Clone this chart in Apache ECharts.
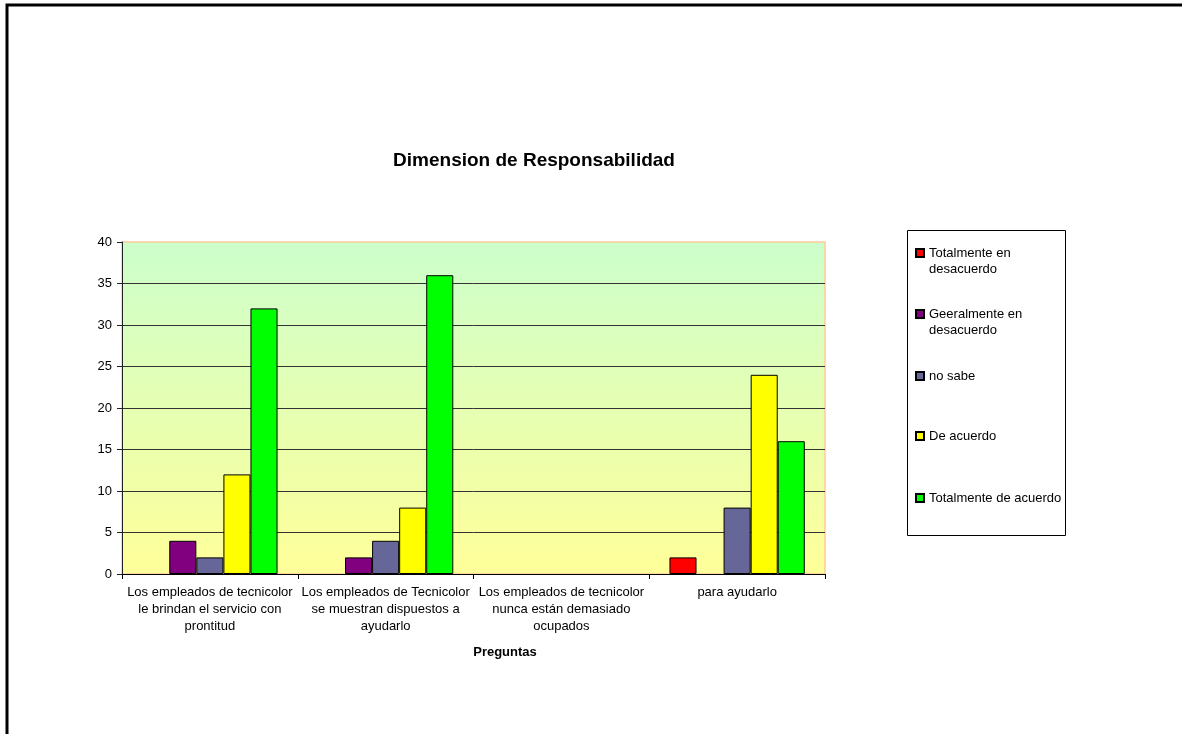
<!DOCTYPE html>
<html>
<head>
<meta charset="utf-8">
<script src="https://cdn.jsdelivr.net/npm/echarts@6/dist/echarts.min.js"></script>
<style>
html,body{margin:0;padding:0;background:#fff;}
#chart{width:1182px;height:734px;}
</style>
</head>
<body>
<div id="chart"></div>
<script>
var categories = [
  'Los empleados de tecnicolor\nle brindan el servicio con\nprontitud',
  'Los empleados de Tecnicolor\nse muestran dispuestos a\nayudarlo',
  'Los empleados de tecnicolor\nnunca están demasiado\nocupados',
  'para ayudarlo'
];
var seriesNames = ['Totalmente en desacuerdo', 'Geeralmente en desacuerdo', 'no sabe', 'De acuerdo', 'Totalmente de acuerdo'];
var legendLabels = ['Totalmente en\ndesacuerdo', 'Geeralmente en\ndesacuerdo', 'no sabe', 'De acuerdo', 'Totalmente de acuerdo'];
var totalmenteDesacuerdo = [0, 0, 0, 2];
var generalmenteDesacuerdo = [4, 2, 0, 0];
var noSabe = [2, 4, 0, 8];
var deAcuerdo = [12, 8, 0, 24];
var totalmenteAcuerdo = [32, 36, 0, 16];
var yTicks = [0, 5, 10, 15, 20, 25, 30, 35, 40];
var titleText = 'Dimension de Responsabilidad';
var xAxisTitle = 'Preguntas';

var colors = ['#ff0000', '#800080', '#666699', '#ffff00', '#00ff00'];
var values = [totalmenteDesacuerdo, generalmenteDesacuerdo, noSabe, deAcuerdo, totalmenteAcuerdo];
var FONT = 'Arial, "Liberation Sans", sans-serif';

var chart = echarts.init(document.getElementById('chart'), null, {renderer: 'canvas'});

var legendCenters = [253, 314, 376, 436, 498];
var legends = seriesNames.map(function (name, i) {
  var twoLine = legendLabels[i].indexOf('\n') >= 0;
  return {
    data: [name],
    left: 915,
    top: twoLine ? legendCenters[i] - 24 : legendCenters[i] - 8,
    orient: 'vertical',
    padding: 0,
    itemWidth: 8,
    itemHeight: 8,
    icon: 'rect',
    formatter: function () { return twoLine ? '\n' + legendLabels[i] : legendLabels[i]; },
    textStyle: {fontFamily: FONT, fontSize: 13, color: '#000', lineHeight: 16}
  };
});

var series = seriesNames.map(function (name, i) {
  return {
    name: name,
    type: 'bar',
    data: values[i].map(function (v) {
      return v === 0 ? {value: v, itemStyle: {borderWidth: 0}} : v;
    }),
    barGap: '0%',
    barCategoryGap: '23%',
    itemStyle: {color: colors[i], borderColor: '#000', borderWidth: 1},
    emphasis: {disabled: true}
  };
});

chart.setOption({
  animation: false,
  backgroundColor: '#fff',
  textStyle: {fontFamily: FONT},
  legend: legends,
  grid: {
    left: 122, top: 242, width: 703, height: 332,
    show: true,
    borderColor: '#ffcc99',
    borderWidth: 1.5,
    backgroundColor: new echarts.graphic.LinearGradient(0, 0, 0, 1, [
      {offset: 0, color: '#ccffcc'},
      {offset: 1, color: '#ffff99'}
    ])
  },
  xAxis: {
    type: 'category',
    data: categories,
    axisLine: {show: true, lineStyle: {color: '#000', width: 1}},
    axisTick: {show: true, length: 5, lineStyle: {color: '#000'}, alignWithLabel: false},
    axisLabel: {
      interval: 0, margin: 10, fontFamily: FONT, fontSize: 13, color: '#000',
      lineHeight: 17, align: 'center'
    },
    splitLine: {show: false}
  },
  yAxis: {
    type: 'value',
    min: yTicks[0],
    max: yTicks[yTicks.length - 1],
    interval: yTicks[1] - yTicks[0],
    axisLine: {show: true, lineStyle: {color: '#222', width: 1}},
    axisTick: {show: true, length: 5, lineStyle: {color: '#222'}},
    axisLabel: {margin: 10, fontFamily: FONT, fontSize: 13, color: '#000'},
    splitLine: {show: true, showMaxLine: false, showMinLine: false, lineStyle: {color: '#333', width: 1}}
  },
  series: series,
  graphic: [
    {
      type: 'rect', silent: true, z: 100,
      shape: {x: 7, y: 5, width: 1300, height: 900},
      style: {fill: 'none', stroke: '#000', lineWidth: 3}
    },
    {
      type: 'rect', silent: true, z: -1,
      shape: {x: 907.5, y: 230.5, width: 158, height: 305},
      style: {fill: '#fff', stroke: '#000', lineWidth: 1}
    },
    {
      type: 'text', silent: true,
      x: 534, y: 161,
      style: {text: titleText, font: 'bold 19px ' + FONT, fill: '#000', align: 'center', verticalAlign: 'middle'}
    },
    {
      type: 'text', silent: true,
      x: 505, y: 652,
      style: {text: xAxisTitle, font: 'bold 13px ' + FONT, fill: '#000', align: 'center', verticalAlign: 'middle'}
    }
  ]
});
</script>
</body>
</html>
